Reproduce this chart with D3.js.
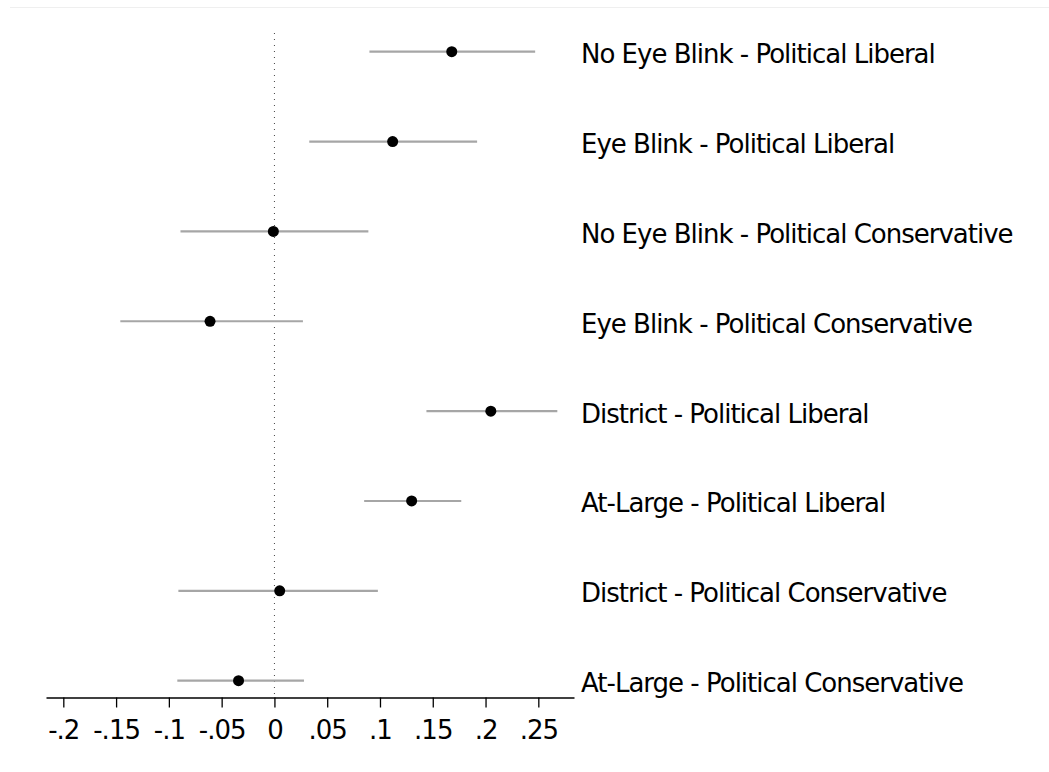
<!DOCTYPE html>
<html>
<head>
<meta charset="utf-8">
<script src="https://cdn.jsdelivr.net/npm/d3@7"></script>
<style>
  body { margin: 0; background: #fff; }
  svg { display: block; font-family: "DejaVu Sans", sans-serif; }
</style>
</head>
<body>
<div id="chart"></div>
<script>
// coefficient plot: point estimates with confidence intervals
var labels = [
    "No Eye Blink - Political Liberal",
    "Eye Blink - Political Liberal",
    "No Eye Blink - Political Conservative",
    "Eye Blink - Political Conservative",
    "District - Political Liberal",
    "At-Large - Political Liberal",
    "District - Political Conservative",
    "At-Large - Political Conservative"
];
var estimates = [0.168, 0.112, -0.001, -0.061, 0.205, 0.130, 0.005, -0.034];
var ci_low = [0.090, 0.033, -0.089, -0.146, 0.144, 0.085, -0.091, -0.092];
var ci_high = [0.247, 0.192, 0.089, 0.027, 0.268, 0.177, 0.098, 0.028];
var ticks = [-0.2, -0.15, -0.1, -0.05, 0, 0.05, 0.1, 0.15, 0.2, 0.25];
var tick_labels = ["-.2", "-.15", "-.1", "-.05", "0", ".05", ".1", ".15", ".2", ".25"];

const W = 1049, H = 772;
const AXIS_Y = 697.5;
const LABEL_X = 581;
const FONT_SIZE = 26;

var svg = d3.select("#chart")
    .append("svg")
        .attr("width", W)
        .attr("height", H);

// faint graph region border at the top
svg.append("line")
    .attr("x1", 10).attr("x2", W)
    .attr("y1", 7.5).attr("y2", 7.5)
    .attr("stroke", "#efefef")
    .attr("stroke-width", 1);

var x = d3.scaleLinear()
    .domain([-0.2164, 0.2838])
    .range([46, 574]);

var y = d3.scalePoint()
    .domain(labels)
    .range([51.7, 680.7]);

var rows = labels.map(function (d, i) {
    return { label: d, est: estimates[i], lo: ci_low[i], hi: ci_high[i] };
});

// zero reference line
svg.append("line")
    .attr("x1", x(0)).attr("x2", x(0))
    .attr("y1", 33).attr("y2", AXIS_Y)
    .attr("stroke", "#444")
    .attr("stroke-width", 1)
    .attr("stroke-dasharray", "1,5");

var axis = d3.axisBottom(x)
    .tickValues(ticks)
    .tickFormat(function (d, i) { return tick_labels[i]; })
    .tickSize(10)
    .tickSizeOuter(0)
    .tickPadding(13);

var gx = svg.append("g")
    .attr("transform", "translate(0," + AXIS_Y + ")")
    .call(axis);

gx.select(".domain")
    .attr("stroke", "#000")
    .attr("stroke-width", 1.3);
gx.selectAll(".tick line")
    .attr("stroke", "#000")
    .attr("stroke-width", 1.3);
gx.selectAll(".tick text")
    .attr("fill", "#000")
    .attr("font-size", FONT_SIZE)
    .attr("letter-spacing", -1)
    .attr("font-family", "DejaVu Sans, sans-serif");

svg.selectAll(".ci")
    .data(rows)
    .enter()
    .append("line")
        .attr("class", "ci")
        .attr("x1", function (d) { return x(d.lo); })
        .attr("x2", function (d) { return x(d.hi); })
        .attr("y1", function (d) { return y(d.label); })
        .attr("y2", function (d) { return y(d.label); })
        .attr("stroke", "#a6a6a6")
        .attr("stroke-width", 2.2);

svg.selectAll(".pt")
    .data(rows)
    .enter()
    .append("circle")
        .attr("class", "pt")
        .attr("cx", function (d) { return x(d.est); })
        .attr("cy", function (d) { return y(d.label); })
        .attr("r", 5.5)
        .attr("fill", "#000");

svg.selectAll(".lbl")
    .data(rows)
    .enter()
    .append("text")
        .attr("class", "lbl")
        .attr("x", LABEL_X)
        .attr("y", function (d) { return y(d.label) + 11.5; })
        .attr("font-size", FONT_SIZE)
        .attr("letter-spacing", -1)
        .attr("fill", "#000")
        .text(function (d) { return d.label; });
</script>
</body>
</html>
